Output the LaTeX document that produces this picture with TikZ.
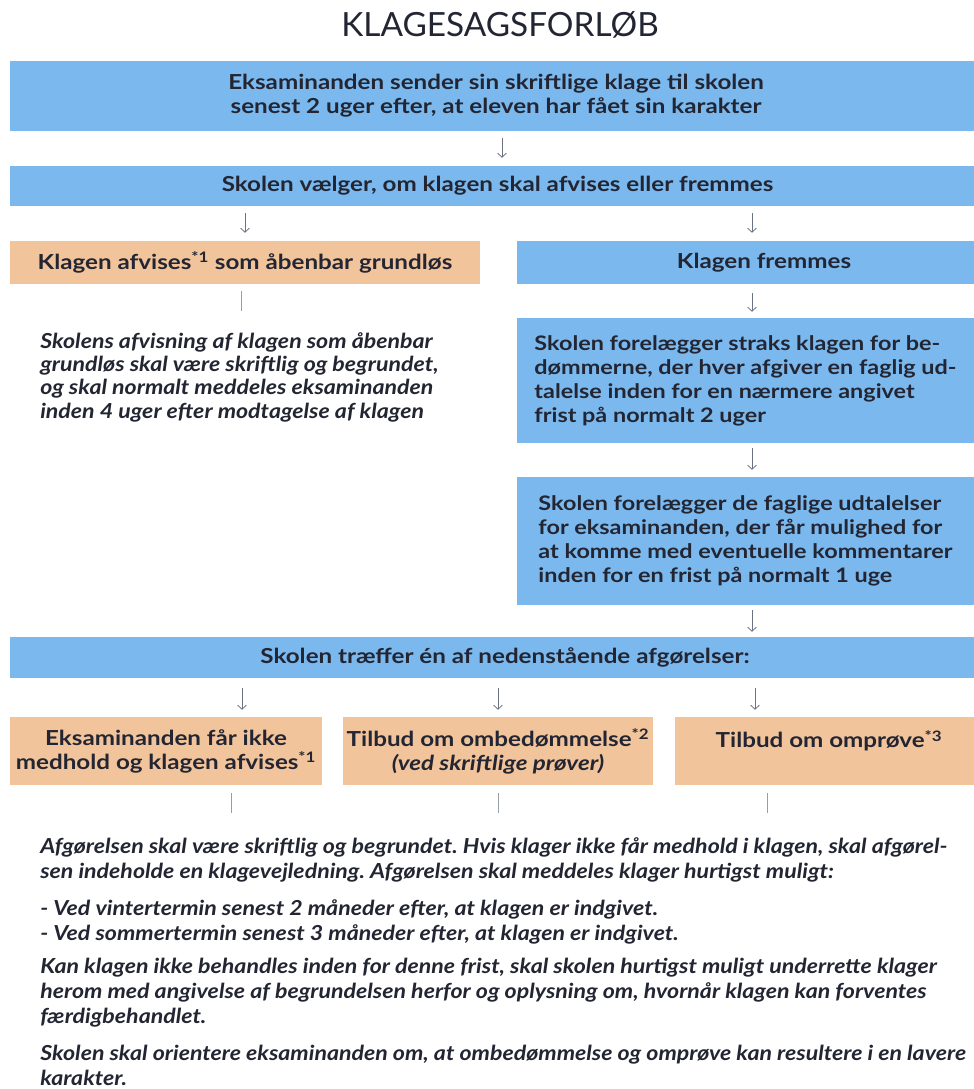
\documentclass[tikz,border=0pt]{standalone}
\usepackage{fontspec}
\setmainfont{Lato}[FakeStretch=1.17]
\newfontfamily\titlefont{Lato}
\newfontfamily\notefont{Lato}[FakeStretch=1.12]
\usetikzlibrary{arrows.meta,calc}
\definecolor{bblue}{RGB}{122,184,238}
\definecolor{borange}{RGB}{242,196,156}
\definecolor{ink}{RGB}{35,38,50}
\definecolor{arrowc}{RGB}{105,115,130}
\frenchspacing
\tikzset{
  boxbase/.style={draw=none, inner sep=0pt, text=ink, align=center,
    font=\bfseries\fontsize{15.5}{18}\selectfont},
  bluebox/.style={boxbase, fill=bblue},
  orangebox/.style={boxbase, fill=borange},
  leftbox/.style={bluebox, align=left, font=\bfseries\fontsize{15}{18}\selectfont},
  note/.style={inner sep=0pt, text=ink, align=left,
    font=\notefont\bfseries\itshape\fontsize{15.5}{17.5}\selectfont},
  arr/.style={draw=arrowc, line width=0.6pt,
    -{Straight Barb[length=3pt,width=6.5pt,line width=0.6pt]}},
  vline/.style={draw=arrowc!70, line width=0.6pt},
}
\begin{document}
\begin{tikzpicture}[x=0.75pt,y=-0.75pt]
\clip (0,0) rectangle (974,1089);
\fill[white] (0,0) rectangle (974,1089);

\node[text=ink, inner sep=0pt, font=\titlefont\fontsize{25}{30}\selectfont] (title) at (500,25) {KLAGESAGSFORLØB};

\node[bluebox, minimum width=972*0.75pt, minimum height=70*0.75pt] (b1) at (496,96)
  {Eksaminanden sender sin skriftlige klage til skolen\\senest 2 uger efter, at eleven har fået sin karakter};
\node[bluebox, minimum width=975*0.75pt, minimum height=40*0.75pt] (b2) at (497.5,186)
  {Skolen vælger, om klagen skal afvises eller fremmes};

\node[orangebox, minimum width=470*0.75pt, minimum height=43*0.75pt] (r1) at (245,262.5)
  {Klagen afvises\textsuperscript{*1} som åbenbar grundløs};
\node[bluebox, minimum width=494*0.75pt, minimum height=43*0.75pt] (fr) at (764,262.5)
  {Klagen fremmes};

\node[note, anchor=north west] (lt) at (40,332)
  {Skolens afvisning af klagen som åbenbar\\grundløs skal være skriftlig og begrundet,\\og skal normalt meddeles eksaminanden\\inden 4 uger efter modtagelse af klagen};

\node[leftbox, minimum width=457*0.75pt, minimum height=125*0.75pt] (s1) at (745.5,380.5)
  {Skolen forelægger straks klagen for be-\\dømmerne, der hver afgiver en faglig ud-\\talelse inden for en nærmere angivet\\frist på normalt 2 uger};
\node[leftbox, minimum width=457*0.75pt, minimum height=128*0.75pt] (s2) at (745.5,541)
  {Skolen forelægger de faglige udtalelser\\for eksaminanden, der får mulighed for\\at komme med eventuelle kommentarer\\inden for en frist på normalt 1 uge};

\node[bluebox, minimum width=990*0.75pt, minimum height=41*0.75pt] (b3) at (505,657.5)
  {Skolen træffer én af nedenstående afgørelser:};

\node[orangebox, minimum width=312*0.75pt, minimum height=68*0.75pt] (o1) at (166,751)
  {Eksaminanden får ikke\\medhold og klagen afvises\textsuperscript{*1}};
\node[orangebox, minimum width=310*0.75pt, minimum height=68*0.75pt] (o2) at (498,751)
  {Tilbud om ombedømmelse\textsuperscript{*2}\\{\itshape (ved skriftlige prøver)}};
\node[orangebox, minimum width=308*0.75pt, minimum height=68*0.75pt] (o3) at (829,751)
  {Tilbud om omprøve\textsuperscript{*3}\\\mbox{}};

\node[note, anchor=north west, font=\notefont\bfseries\itshape\fontsize{15.5}{18.75}\selectfont] (bt) at (40,837)
  {Afgørelsen skal være skriftlig og begrundet. Hvis klager ikke får medhold i klagen, skal afgørel-\\
   sen indeholde en klagevejledning. Afgørelsen skal meddeles klager hurtigst muligt:\\[9pt]
   - Ved vintertermin senest 2 måneder efter, at klagen er indgivet.\\
   - Ved sommertermin senest 3 måneder efter, at klagen er indgivet.\\[6pt]
   Kan klagen ikke behandles inden for denne frist, skal skolen hurtigst muligt underrette klager\\
   herom med angivelse af begrundelsen herfor og oplysning om, hvornår klagen kan forventes\\
   færdigbehandlet.\\[9.5pt]
   Skolen skal orientere eksaminanden om, at ombedømmelse og omprøve kan resultere i en lavere\\
   karakter.};

% connectors
\draw[arr, shorten <=5.25pt, shorten >=6pt] ([xshift=4.5pt]b1.south) -- ([xshift=4.5pt]b1.south |- b2.north);
\draw[arr, shorten <=5.25pt, shorten >=6pt] (b2.south -| r1.north) -- (r1.north);
\draw[arr, shorten <=5.25pt, shorten >=6pt] ([xshift=-9pt]b2.south -| fr.north) -- ([xshift=-9pt]fr.north);
\draw[vline, shorten <=5.25pt, shorten >=15.75pt] ([xshift=-3pt]r1.south) -- ([xshift=-3pt]r1.south |- lt.north);
\draw[arr, shorten <=6.75pt, shorten >=4.5pt] ([xshift=-9pt]fr.south) -- ([xshift=-9pt]fr.south |- s1.north);
\draw[arr, shorten <=3.75pt, shorten >=5.25pt] ([xshift=-9pt]s1.south -| fr.south) -- ([xshift=-9pt]s2.north -| fr.south);
\draw[arr, shorten <=3.75pt, shorten >=3.75pt] ([xshift=-9pt]s2.south -| fr.south) -- ([xshift=-9pt]b3.north -| fr.south);
\draw[arr, shorten <=7.5pt, shorten >=5.25pt] ([xshift=57pt]b3.south -| o1.north) -- ([xshift=57pt]o1.north);
\draw[arr, shorten <=7.5pt, shorten >=5.25pt] (b3.south -| o2.north) -- (o2.north);
\draw[arr, shorten <=7.5pt, shorten >=5.25pt] ([xshift=-55.5pt]b3.south -| o3.north) -- ([xshift=-55.5pt]o3.north);
\draw[vline, shorten <=6pt, shorten >=18pt] ([xshift=48.75pt]o1.south) -- ([xshift=48.75pt]o1.south |- bt.north);
\draw[vline, shorten <=6pt, shorten >=18pt] (o2.south) -- (o2.south |- bt.north);
\draw[vline, shorten <=6pt, shorten >=18pt] ([xshift=-46.5pt]o3.south) -- ([xshift=-46.5pt]o3.south |- bt.north);
\end{tikzpicture}
\end{document}
